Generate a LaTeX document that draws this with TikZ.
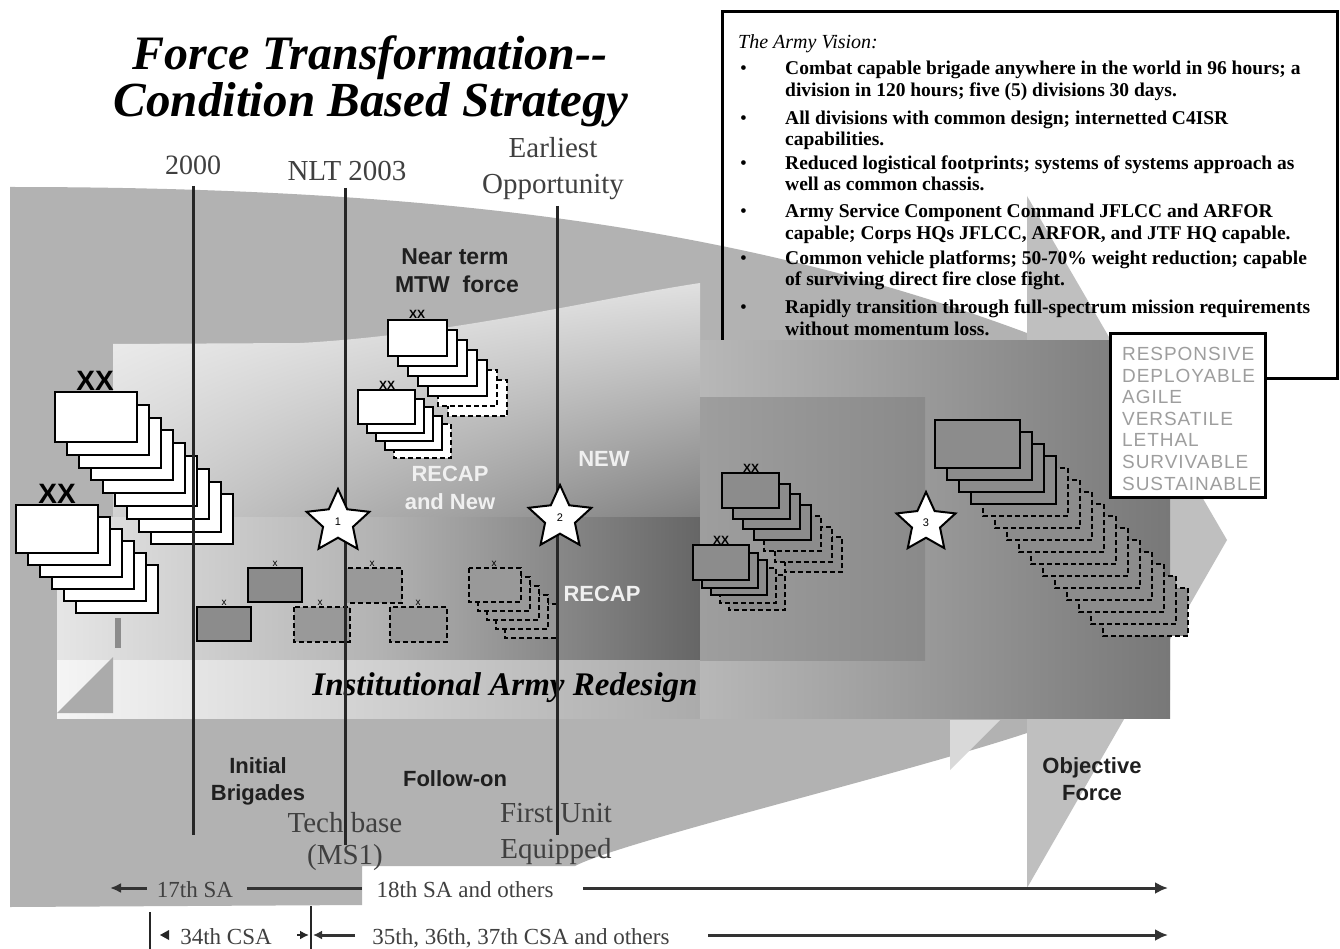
\documentclass[tikz,border=0pt]{standalone}
\usepackage{fontspec}
\setmainfont{Liberation Serif}
\newfontfamily\sansf{Liberation Sans}
\newfontfamily\respf[LetterSpace=5]{Liberation Sans}
\usetikzlibrary{shapes.geometric,arrows.meta,shadings}
\tikzset{
  stackline/.style={draw=black,line width=2pt},
  dashed stack/.style={dash pattern=on 5pt off 3pt},
  tline/.style={draw=black!85,line width=3pt},
  serlbl/.style={font=\fontsize{29}{32}\selectfont,text=black!75,anchor=base,inner sep=0pt},
  sanslbl/.style={font=\sansf\bfseries\fontsize{22}{26}\selectfont,text=black!88,anchor=base,inner sep=0pt},
  wlbl/.style={font=\sansf\bfseries\fontsize{22}{26}\selectfont,text=white!94!black,anchor=base,inner sep=0pt},
  avt/.style={anchor=base west,font=\bfseries\fontsize{19.5}{20}\selectfont,inner sep=0pt},
  avb/.style={anchor=base west,font=\fontsize{19.5}{20}\selectfont,inner sep=0pt},
  resp/.style={anchor=base west,font=\respf\fontsize{19}{20}\selectfont,text=black!38,inner sep=0pt},
  bot/.style={font=\fontsize{23}{25}\selectfont,text=black!75,anchor=base,inner sep=0pt},
  bline/.style={draw=black!80,line width=3pt},
  starst/.style={star,star points=5,star point ratio=2.1,draw=black,line width=2pt,fill=white,inner sep=0pt,font=\sansf\fontsize{11}{11}\selectfont},
  bigxx/.style={font=\sansf\bfseries\fontsize{28}{28}\selectfont,anchor=base,inner sep=0pt},
  smxx/.style={font=\sansf\bfseries\fontsize{12}{12}\selectfont,anchor=base,inner sep=0pt},
  tinyx/.style={font=\sansf\fontsize{10}{10}\selectfont,anchor=base,inner sep=0pt},
}
\newcommand\drawstack[9]{%
  \foreach \stk in {#7,...,1}{%
    \pgfmathsetmacro\sx{#1+(\stk-1)*#5}%
    \pgfmathsetmacro\sy{#2+(\stk-1)*#6}%
    \ifnum\stk>#8\relax
      \filldraw[stackline,dashed stack,fill=#9] (\sx,\sy) rectangle ++(#3,#4);%
    \else
      \filldraw[stackline,fill=#9] (\sx,\sy) rectangle ++(#3,#4);%
    \fi}}
\begin{document}
\begin{tikzpicture}[x=1pt,y=-1pt]
\useasboundingbox (0,0) rectangle (1340,949);
\fill[white] (0,0) rectangle (1340,949);
% big wedge
\fill[black!30] (10,187) .. controls (450,187) and (750,230) .. (1027,333) -- (1170,370) -- (1170,690) -- (1027,733) .. controls (900,775) and (620,842) .. (575,866) -- (362,866) -- (362,905) -- (10,907) -- cycle;
% objective arrow
\fill[black!25] (1027,196) -- (1227,540) -- (1027,888) -- cycle;
\fill[black!15] (950,720) -- (1000,720) -- (950,770) -- cycle;
% Army Vision box
\draw[line width=3pt] (722,12) rectangle (1337,378);
\node[anchor=base west,font=\itshape\fontsize{20}{22}\selectfont,inner sep=0pt] (avh) at (738,49) {The Army Vision:};
\foreach \by/\nm in {75/b1,125/b2,170/b3,218/b4,265/b5,313/b6}{
  \node[avb] (\nm) at (740,\by) {\textbullet};}
\node[avt] (a1) at (785,75) {Combat capable brigade anywhere in the world in 96 hours; a};
\node[avt] (a2) at (785,97) {division in 120 hours; five (5) divisions 30 days.};
\node[avt] (a3) at (785,125) {All divisions with common design; internetted C4ISR};
\node[avt] (a4) at (785,146) {capabilities.};
\node[avt] (a5) at (785,170) {Reduced logistical footprints; systems of systems approach as};
\node[avt] (a6) at (785,191) {well as common chassis.};
\node[avt] (a7) at (785,218) {Army Service Component Command JFLCC and ARFOR};
\node[avt] (a8) at (785,240) {capable; Corps HQs JFLCC, ARFOR, and JTF HQ capable.};
\node[avt] (a9) at (785,265) {Common vehicle platforms; 50-70\% weight reduction; capable};
\node[avt] (a10) at (785,286) {of surviving direct fire close fight.};
\node[avt] (a11) at (785,313) {Rapidly transition through full-spectrum mission requirements};
\node[avt] (a12) at (785,335) {without momentum loss.};
% inner regions
\shade[upper left=black!5, upper right=black!12, lower left=black!18, lower right=black!50] (113,344) -- (300,343) .. controls (450,335) and (600,298) .. (700,283) -- (700,517) -- (113,517) -- cycle;
\shade[left color=black!10, right color=black!60, middle color=black!30] (57,517) rectangle (700,660);
\shade[left color=black!4, right color=black!33] (57,660) rectangle (700,718);
\fill[black!33] (57,713) -- (113,657) -- (113,713) -- cycle;
\fill[black!45] (115,618) rectangle (121,648);
\shade[left color=black!28, right color=black!53] (700,340) rectangle (1170,718);
\shade[left color=black!38, right color=black!46] (700,397) rectangle (925,660);
% responsive box
\filldraw[fill=white,line width=3pt] (1110,333) rectangle (1265,497);
\node[resp] (r1) at (1122,360) {RESPONSIVE};
\node[resp] (r2) at (1122,382) {DEPLOYABLE};
\node[resp] (r3) at (1122,403) {AGILE};
\node[resp] (r4) at (1122,425) {VERSATILE};
\node[resp] (r5) at (1122,446) {LETHAL};
\node[resp] (r6) at (1122,468) {SURVIVABLE};
\node[resp] (r7) at (1122,490) {SUSTAINABLE};
% division stacks
\drawstack{55}{392}{82}{50}{12}{12.8}{9}{9}{white}
\node[bigxx] (xa) at (95,390) {XX};
\drawstack{16}{505}{82}{48}{12}{12}{6}{6}{white}
\node[bigxx] (xb) at (57,503) {XX};
\drawstack{388}{320}{59}{36}{10}{10}{7}{5}{white}
\node[smxx] (xc) at (417,319) {XX};
\drawstack{358}{390}{57}{34}{9}{8.5}{5}{4}{white}
\node[smxx] (xd) at (387,389) {XX};
\drawstack{722}{473}{57}{35}{10.5}{10.7}{7}{4}{black!45}
\node[smxx] (xe) at (751,472) {XX};
\drawstack{693}{545}{56}{35}{9}{7.5}{5}{3}{black!45}
\node[smxx] (xf) at (721,544) {XX};
\drawstack{935}{420}{85}{48}{12}{12}{15}{4}{black!45}
% brigades
\filldraw[stackline,fill=black!45] (197,607) rectangle (251,641);
\node[tinyx] (x1) at (224,605) {x};
\filldraw[stackline,fill=black!45] (248,568) rectangle (302,602);
\node[tinyx] (x2) at (275,566) {x};
\filldraw[stackline,dashed stack,fill=black!40] (294,607) rectangle (350,642);
\node[tinyx] (x3) at (320,605) {x};
\filldraw[stackline,dashed stack,fill=black!40] (345,568) rectangle (402,603);
\node[tinyx] (x4) at (372,566) {x};
\filldraw[stackline,dashed stack,fill=black!40] (390,607) rectangle (447,642);
\node[tinyx] (x5) at (418,605) {x};
\drawstack{469}{568}{52}{34}{9}{9}{5}{0}{black!40}
\node[tinyx] (x6) at (494,566) {x};
% labels in field
\node[sanslbl,font=\sansf\bfseries\fontsize{23}{26}\selectfont] (nt1) at (455,265) {Near term};
\node[sanslbl,font=\sansf\bfseries\fontsize{23}{26}\selectfont] (nt2) at (457,293) {MTW\ \ force};
\node[wlbl] (rc1) at (450,481) {RECAP};
\node[wlbl] (rc2) at (450,509) {and New};
\node[wlbl] (nw) at (604,466) {NEW};
\node[wlbl] (rc3) at (602,601) {RECAP};
\node[anchor=base,inner sep=0pt,font=\bfseries\itshape\fontsize{33}{36}\selectfont] (iar) at (505,695) {Institutional Army Redesign};
\node[sanslbl] (ib1) at (258,773) {Initial};
\node[sanslbl] (ib2) at (258,800) {Brigades};
\node[sanslbl] (fo) at (455,786) {Follow-on};
\node[sanslbl] (of1) at (1092,773) {Objective};
\node[sanslbl] (of2) at (1092,800) {Force};
\node[serlbl] (tb1) at (345,832) {Tech base};
\node[serlbl] (tb2) at (345,864) {(MS1)};
\node[serlbl] (fu1) at (556,822) {First Unit};
\node[serlbl] (fu2) at (556,858) {Equipped};
% timeline labels and lines
\node[serlbl,font=\fontsize{28}{30}\selectfont] (t2000) at (193,175) {2000};
\node[serlbl] (tnlt) at (347,181) {NLT 2003};
\node[serlbl] (tea1) at (553,158) {Earliest};
\node[serlbl] (tea2) at (553,194) {Opportunity};
\coordinate (l1a) at (193,186); \coordinate (l1b) at (193,835);
\coordinate (l2a) at (345,188); \coordinate (l2b) at (345,845);
\coordinate (l3a) at (557,206); \coordinate (l3b) at (557,835);
\draw[tline] (l1a) -- (l1b);
\draw[tline] (l2a) -- (l2b);
\draw[tline] (l3a) -- (l3b);
% stars
\node[starst,minimum size=66pt] (s1) at (338,522) {1};
\node[starst,minimum size=66pt] (s2) at (560,518) {2};
\node[starst,minimum size=62pt] (s3) at (926,523) {3};
% title
\node[anchor=base,inner sep=0pt,font=\bfseries\itshape\fontsize{48}{52}\selectfont] (ti1) at (370,70) {Force Transformation{-}{-}};
\node[anchor=base,inner sep=0pt,font=\bfseries\itshape\fontsize{49}{52}\selectfont] (ti2) at (371,117) {Condition Based Strategy};
% bottom rows
\node[bot] (sa17) at (195,897) {17th SA};
\node[bot] (sa18) at (465,897) {18th SA and others};
\node[bot] (csa34) at (226,944) {34th CSA};
\node[bot] (csa35) at (521,944) {35th, 36th, 37th CSA and others};
\coordinate (p0) at (147,888);
\coordinate (p1) at (110,888);
\coordinate (p2a) at (247,888);
\coordinate (p2) at (362,888);
\coordinate (p3a) at (583,888);
\coordinate (p3) at (1168,888);
\coordinate (q1) at (150,912); \coordinate (q1b) at (150,949);
\coordinate (q2) at (311,906); \coordinate (q2b) at (311,949);
\coordinate (q3a) at (708,935);
\coordinate (q3) at (1168,935);
\coordinate (q4) at (297,935);
\coordinate (q4b) at (309,935);
\coordinate (q5a) at (355,935);
\coordinate (q5) at (313,935);
\draw[bline,-{Latex[length=11pt,width=10pt]}] (p0) -- (p1);
\draw[bline] (p2a) -- (p2);
\draw[bline,-{Latex[length=13pt,width=12pt]}] (p3a) -- (p3);
\draw[draw=black!85,line width=2pt] (q1) -- (q1b);
\fill[black!85] (160,935) -- (169,930) -- (169,940) -- cycle;
\draw[draw=black!85,line width=2pt] (q2) -- (q2b);
\draw[draw=black!85,line width=2.5pt,-{Latex[length=9pt,width=9pt]}] (q4) -- (q4b);
\draw[bline,-{Latex[length=9pt,width=9pt]}] (q5a) -- (q5);
\draw[bline,-{Latex[length=13pt,width=12pt]}] (q3a) -- (q3);
\end{tikzpicture}
\end{document}
